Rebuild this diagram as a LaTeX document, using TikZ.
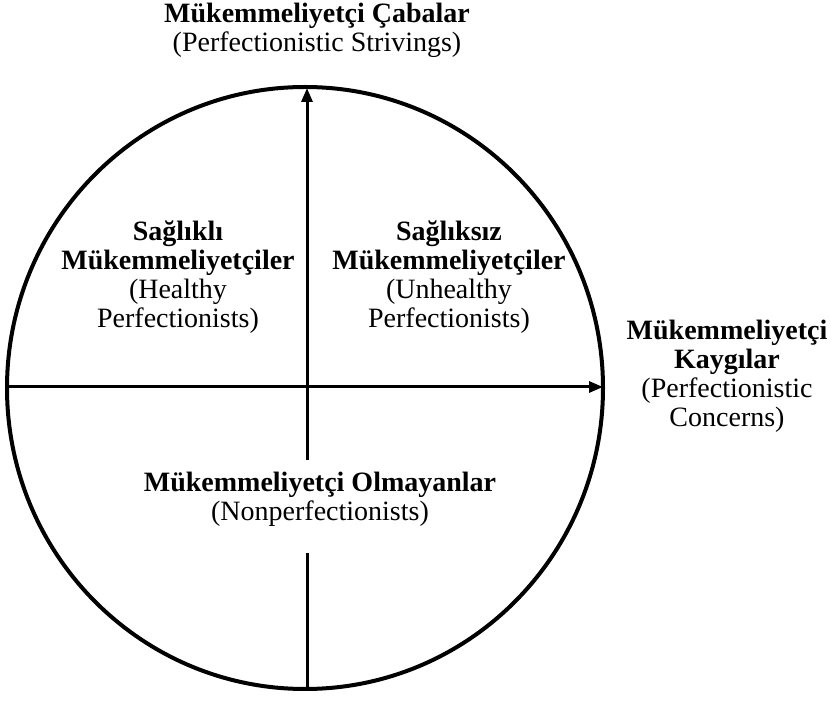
\documentclass[tikz,border=0pt]{standalone}
\usepackage{fontspec}
\setmainfont{Liberation Serif}
\usepackage{tikz}
\usetikzlibrary{arrows.meta}

\begin{document}
\begin{tikzpicture}[x=1pt,y=-1pt,
        lbl/.style={align=center,inner sep=0pt,font=\fontsize{28}{29}\selectfont},
        axis/.style={line width=3pt,-{Triangle[length=14pt,width=11pt]}}]
        \useasboundingbox (0,0) rectangle (831,703);
        \draw [line width=4pt] (305,388) ellipse [x radius=298, y radius=301];
        \coordinate (bottom) at (307,688);
        \coordinate (gaplow) at (307,553);
        \coordinate (gaphigh) at (307,460);
        \coordinate (top) at (307,88);
        \coordinate (left) at (7,387);
        \coordinate (right) at (603,387);
        \draw [line width=3pt] (bottom) -- (gaplow);
        \draw [axis] (gaphigh) -- (top);
        \draw [axis] (left) -- (right);
        \node [lbl] (strivings) at (317,30) {\textbf{Mükemmeliyetçi Çabalar}\\(Perfectionistic Strivings)};
        \node [lbl] (concerns) at (727,376) {\textbf{Mükemmeliyetçi}\\\textbf{Kaygılar}\\(Perfectionistic\\Concerns)};
        \node [lbl] (healthy) at (178,277) {\textbf{Sağlıklı}\\\textbf{Mükemmeliyetçiler}\\(Healthy\\Perfectionists)};
        \node [lbl] (unhealthy) at (449,277) {\textbf{Sağlıksız}\\\textbf{Mükemmeliyetçiler}\\(Unhealthy\\Perfectionists)};
        \node [lbl] (nonperf) at (320,499) {\textbf{Mükemmeliyetçi Olmayanlar}\\(Nonperfectionists)};
\end{tikzpicture}
\end{document}
